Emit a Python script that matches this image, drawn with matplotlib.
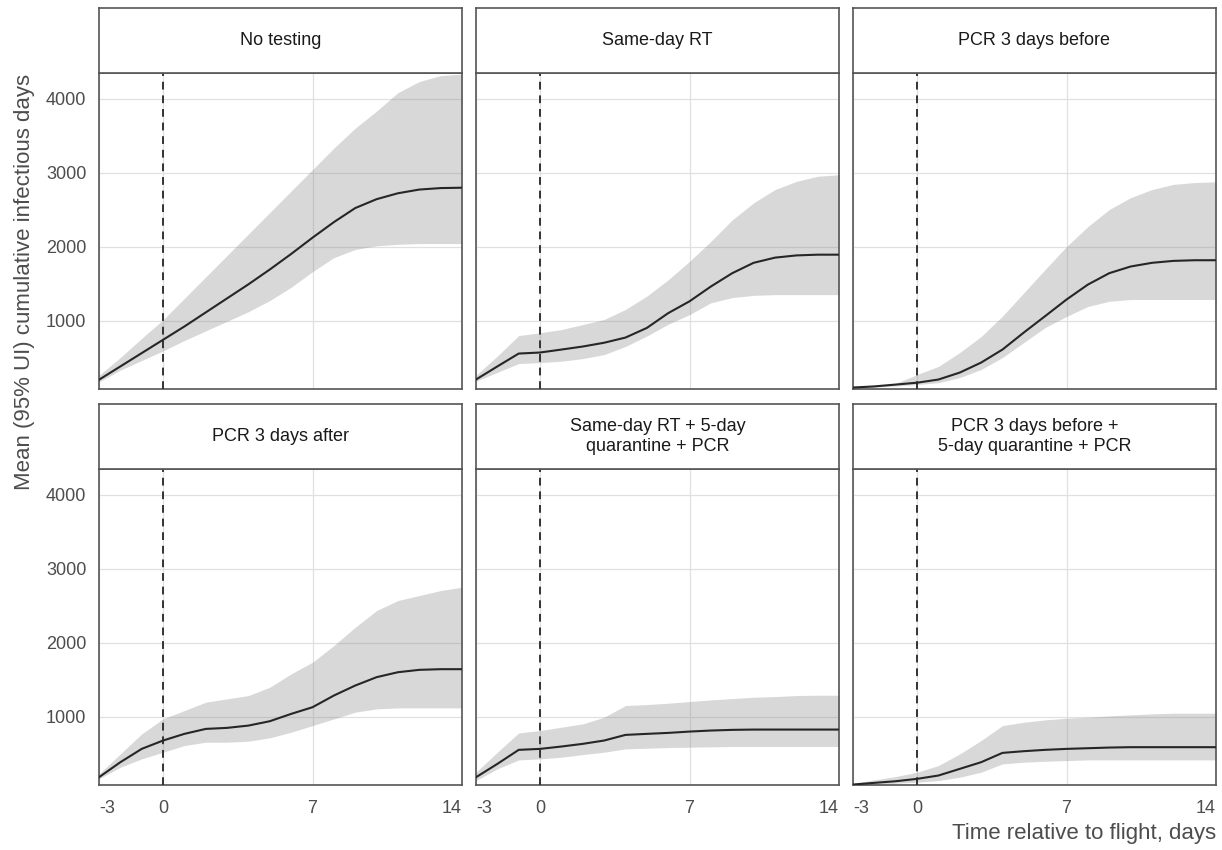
import numpy as np
import matplotlib.pyplot as plt

plt.rcParams['font.family'] = ['Liberation Sans', 'DejaVu Sans']

# Days relative to flight
days = list(range(-3, 15))

titles = [
    'No testing',
    'Same-day RT',
    'PCR 3 days before',
    'PCR 3 days after',
    'Same-day RT + 5-day\nquarantine + PCR',
    'PCR 3 days before +\n5-day quarantine + PCR',
]

# Mean cumulative infectious days, one list per strategy
mean_no_test = [200, 380, 560, 740, 920, 1110, 1300, 1490, 1690, 1900, 2120, 2330, 2520, 2640, 2720, 2770, 2790, 2795]
mean_same_rt = [203, 380, 554, 568, 608, 649, 700, 770, 900, 1100, 1260, 1460, 1640, 1780, 1850, 1880, 1890, 1890]
mean_pcr_before = [95, 110, 135, 160, 203, 297, 432, 608, 838, 1060, 1284, 1486, 1640, 1730, 1780, 1806, 1815, 1815]
mean_pcr_after = [180, 383, 563, 676, 766, 833, 847, 878, 937, 1036, 1126, 1284, 1419, 1532, 1599, 1631, 1640, 1640]
mean_rt_quar = [180, 360, 550, 563, 595, 631, 676, 752, 766, 779, 797, 811, 820, 824, 824, 824, 824, 824]
mean_pcr_quar = [81, 104, 126, 158, 203, 293, 383, 509, 532, 550, 563, 572, 581, 586, 586, 586, 586, 586]

# Lower 95% UI
low_no_test = [170, 330, 460, 590, 730, 860, 990, 1120, 1270, 1450, 1660, 1850, 1960, 2010, 2030, 2040, 2040, 2040]
low_same_rt = [180, 300, 419, 432, 450, 486, 540, 650, 790, 950, 1080, 1240, 1310, 1340, 1350, 1350, 1350, 1350]
low_pcr_before = [90, 100, 115, 135, 160, 230, 338, 500, 703, 905, 1055, 1190, 1260, 1284, 1284, 1284, 1284, 1284]
low_pcr_after = [158, 315, 428, 518, 608, 653, 653, 667, 712, 788, 878, 968, 1059, 1104, 1117, 1117, 1117, 1117]
low_rt_quar = [135, 293, 414, 428, 450, 486, 518, 563, 572, 581, 586, 590, 595, 595, 595, 595, 595, 595]
low_pcr_quar = [68, 81, 99, 113, 135, 180, 248, 360, 383, 396, 405, 414, 414, 414, 414, 414, 414, 414]

# Upper 95% UI
up_no_test = [260, 500, 760, 1010, 1300, 1590, 1880, 2170, 2460, 2750, 3040, 3330, 3600, 3830, 4080, 4230, 4310, 4330]
up_same_rt = [260, 520, 797, 835, 878, 946, 1014, 1150, 1330, 1550, 1800, 2070, 2360, 2590, 2770, 2880, 2950, 2970]
up_pcr_before = [100, 125, 150, 270, 380, 568, 784, 1060, 1375, 1690, 2000, 2270, 2500, 2660, 2770, 2840, 2865, 2875]
up_pcr_after = [225, 495, 766, 968, 1081, 1194, 1239, 1284, 1396, 1577, 1734, 1959, 2207, 2432, 2568, 2635, 2703, 2748]
up_rt_quar = [248, 518, 779, 811, 856, 901, 991, 1149, 1162, 1180, 1203, 1225, 1243, 1261, 1270, 1284, 1288, 1288]
up_pcr_quar = [99, 144, 189, 248, 338, 495, 676, 878, 923, 955, 977, 991, 1009, 1023, 1036, 1045, 1045, 1045]

means = [mean_no_test, mean_same_rt, mean_pcr_before, mean_pcr_after, mean_rt_quar, mean_pcr_quar]
lows = [low_no_test, low_same_rt, low_pcr_before, low_pcr_after, low_rt_quar, low_pcr_quar]
ups = [up_no_test, up_same_rt, up_pcr_before, up_pcr_after, up_rt_quar, up_pcr_quar]

W, H = 1222, 850
fig = plt.figure(figsize=(W / 100, H / 100), dpi=100)

# panel geometry in pixels
col_left = [99, 476, 853]
panel_w = 363
row_strip_top = [8, 404]
strip_h = 65
panel_h = 316
edge = '#555555'

for i in range(6):
    r, c = divmod(i, 3)
    x0 = col_left[c]
    st = row_strip_top[r]
    pt = st + strip_h
    ax = fig.add_axes([x0 / W, 1 - (pt + panel_h) / H, panel_w / W, panel_h / H])
    sax = fig.add_axes([x0 / W, 1 - pt / H, panel_w / W, strip_h / H])

    sax.set_xticks([])
    sax.set_yticks([])
    for s in sax.spines.values():
        s.set_color(edge)
        s.set_linewidth(1.2)
    sax.text(0.5, 0.5, titles[i], ha='center', va='center', fontsize=13,
             color='#1a1a1a', linespacing=1.3, transform=sax.transAxes)

    x = np.array(days)
    ax.fill_between(x, lows[i], ups[i], color='#808080', alpha=0.3, lw=0, zorder=2)
    ax.plot(x, means[i], color='#262626', lw=1.5, zorder=4)
    ax.axvline(0, color='#333333', lw=1.4, dashes=(4, 3), zorder=3)

    ax.set_xlim(-3, 14)
    ax.set_ylim(75, 4345)
    ax.set_xticks([-3, 0, 7, 14])
    ax.set_yticks([1000, 2000, 3000, 4000])
    ax.grid(True, color='#e0e0e0', lw=0.9, zorder=0)
    ax.set_axisbelow(True)
    for s in ax.spines.values():
        s.set_color(edge)
        s.set_linewidth(1.2)
    ax.tick_params(length=0, labelsize=13, labelcolor='#4d4d4d')
    ax.tick_params(axis='y', pad=9)
    ax.tick_params(axis='x', pad=11)

    if r == 1:
        ax.set_xticklabels(['-3', '0', '7', '14'])
        lbls = ax.get_xticklabels()
        lbls[0].set_ha('left')
        lbls[-1].set_ha('right')
    else:
        ax.set_xticklabels([])
    if c != 0:
        ax.set_yticklabels([])

fig.text(25 / W, 1 - 282 / H, 'Mean (95% UI) cumulative infectious days', rotation=90,
         ha='center', va='center', fontsize=16, color='#4d4d4d')
fig.text(1216 / W, 1 - 834 / H, 'Time relative to flight, days',
         ha='right', va='center', fontsize=16, color='#4d4d4d')

fig.savefig('out.png', dpi=100)
